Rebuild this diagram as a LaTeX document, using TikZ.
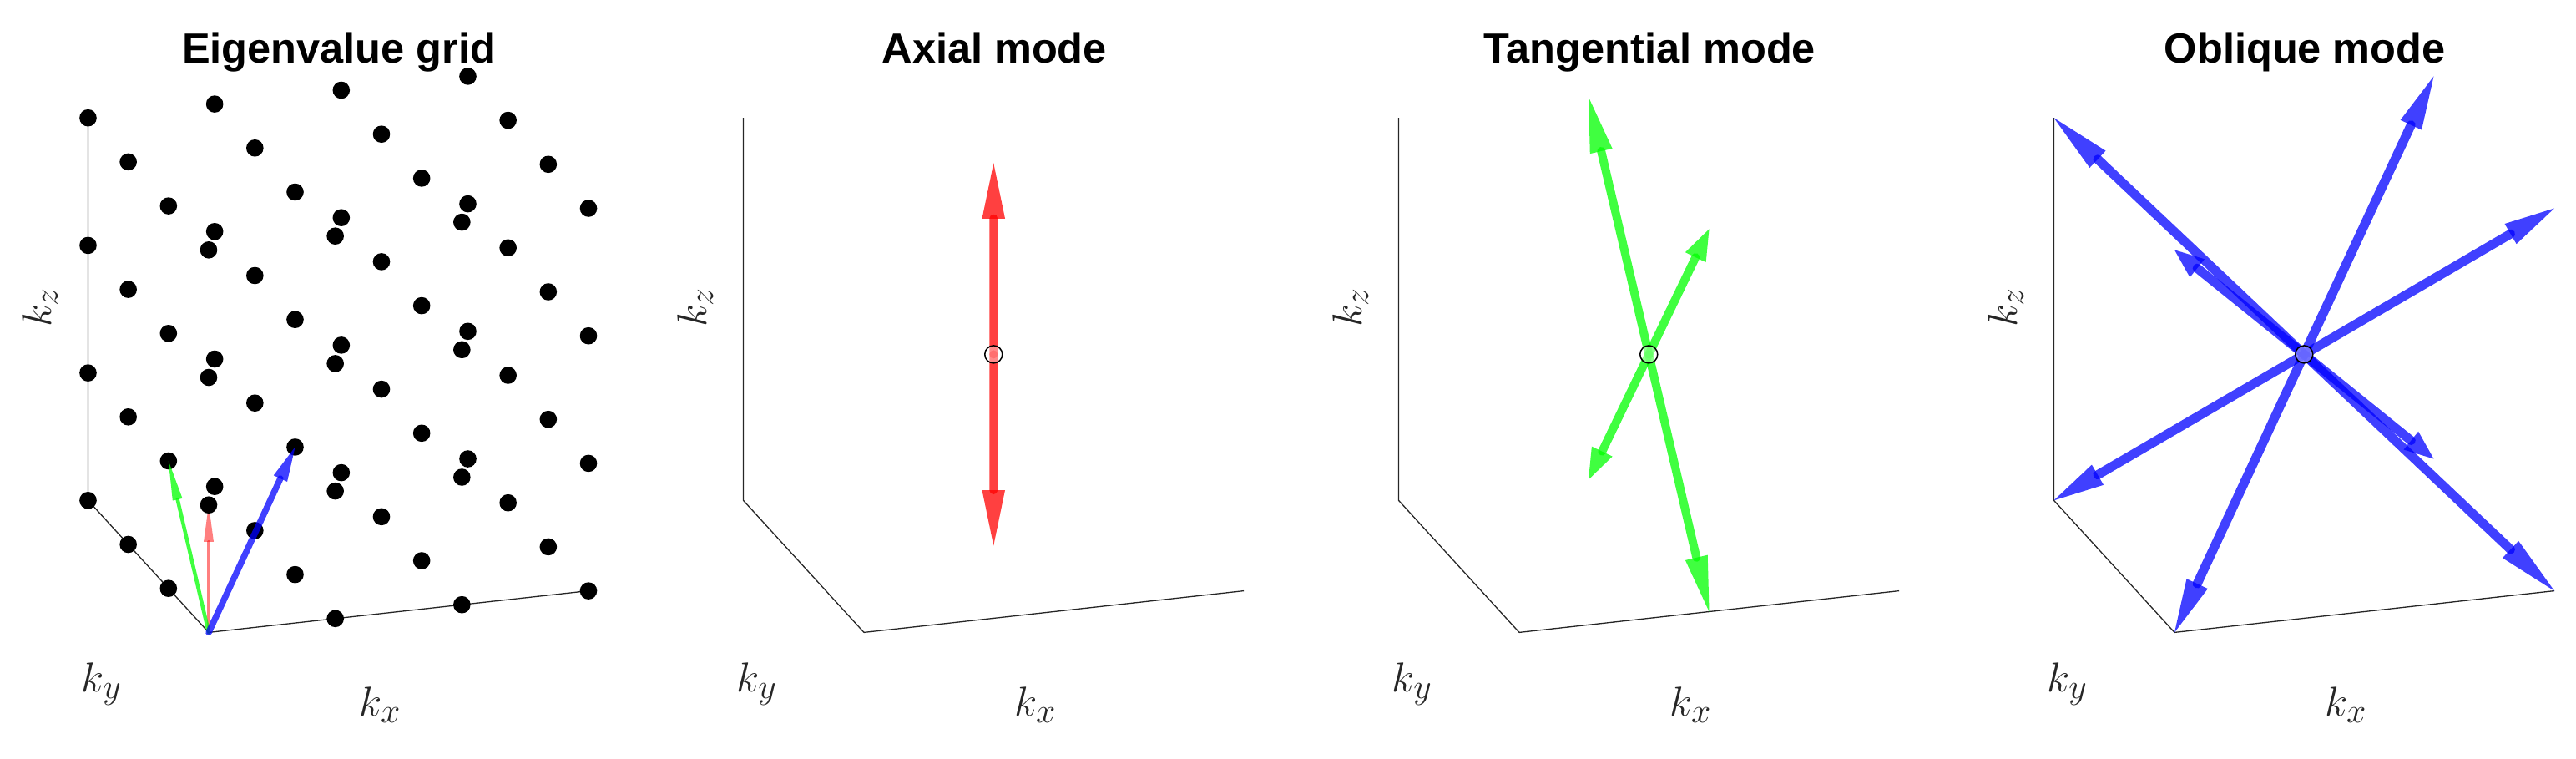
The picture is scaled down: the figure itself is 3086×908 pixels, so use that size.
\documentclass[tikz,border=0pt]{standalone}
\usepackage{graphicx}
\usepackage{fontspec}
\newfontfamily\tfont{Liberation Sans}
\usetikzlibrary{calc}
\definecolor{axgray}{gray}{0.15}
\tikzset{
  panel/.style={x={(151.67pt,16.6pt)},y={(-48.17pt,52.7pt)},z={(0pt,152.7pt)}},
  axline/.style={draw=axgray,line width=1.3pt},
  ttl/.style={font=\tfont\bfseries\fontsize{50.5}{60}\selectfont, anchor=base, inner sep=0pt},
  lbl/.style={font=\fontsize{24.88}{30}\selectfont, text=axgray, inner sep=0pt},
  ctrmark/.style={draw=black, line width=1.5pt, fill=white, fill opacity=0.4},
}
\newcommand\bigmath[1]{\scalebox{2.01}{$#1$}}
% #1 start, #2 tip, #3 colour, #4 opacity, #5 shaft width, #6 head fraction, #7 half head width
\newcommand\vecarrow[7]{%
  \coordinate (hb) at ($(#2)!#6!(#1)$);
  \draw[draw=#3, opacity=#4, line width=#5, line cap=round] (#1) -- (hb);
  \fill[#3, opacity=#4] (#2) -- ($(hb)!#7!90:(#2)$) -- ($(hb)!#7!-90:(#2)$) -- cycle;
}
\begin{document}
\begin{tikzpicture}[x=1pt,y=-1pt]
\useasboundingbox (0,0) rectangle (3086,908);

% titles and axis labels
\foreach \n/\t in {0/Eigenvalue grid,1/Axial mode,2/Tangential mode,3/Oblique mode}{
  \node[ttl] (title\n) at ({406.25+785*\n},75.3) {\t};
  \node[lbl,rotate=90] (kz\n) at ({48+785*\n},368) {\bigmath{k_z}};
  \node[lbl] (ky\n) at ({121.75+785*\n},819) {\bigmath{k_y}};
  \node[lbl] (kx\n) at ({455.5+785*\n},844) {\bigmath{k_x}};
}

% ---------- panel 1: eigenvalue grid
\begin{scope}[shift={(250pt,-757.4pt)},panel]
  \draw[axline] (0,0,0) -- (3,0,0);
  \draw[axline] (0,0,0) -- (0,3,0) -- (0,3,3);
  \coordinate (o1) at (0,0,0);
  \coordinate (r1) at (0,0,1);
  \coordinate (g1) at (0,1,1);
  \coordinate (b1) at (1,1,1);
  \vecarrow{o1}{r1}{red}{0.5}{4pt}{0.29}{6pt}
  \foreach \i in {0,...,3}{
    \foreach \j in {0,...,3}{
      \foreach \k in {0,...,3}{
        \pgfmathtruncatemacro\s{\i+\j+\k}
        \ifnum\s>0 \fill[black] (\i,\j,\k) circle[radius=10.3pt]; \fi
      }
    }
  }
  \vecarrow{o1}{g1}{green}{0.75}{4.5pt}{0.225}{6pt}
  \vecarrow{o1}{b1}{blue}{0.75}{7.5pt}{0.17}{9pt}
\end{scope}

% ---------- panel 2: axial mode
\begin{scope}[shift={(1035pt,-757.4pt)},panel]
  \draw[axline] (0,0,0) -- (3,0,0);
  \draw[axline] (0,0,0) -- (0,3,0) -- (0,3,3);
  \coordinate (c2) at (1.5,1.5,1.5);
  \coordinate (t2a) at (1.5,1.5,3);
  \coordinate (t2b) at (1.5,1.5,0);
  \vecarrow{c2}{t2a}{red}{0.75}{10pt}{0.29}{13.75pt}
  \vecarrow{c2}{t2b}{red}{0.75}{10pt}{0.29}{13.75pt}
  \draw[ctrmark] (c2) circle[radius=10.5pt];
\end{scope}

% ---------- panel 3: tangential mode
\begin{scope}[shift={(1820pt,-757.4pt)},panel]
  \draw[axline] (0,0,0) -- (3,0,0);
  \draw[axline] (0,0,0) -- (0,3,0) -- (0,3,3);
  \coordinate (c3) at (1.5,1.5,1.5);
  \coordinate (t3a) at (1.5,3,3);
  \coordinate (t3b) at (1.5,0,0);
  \coordinate (t3c) at (1.5,0,3);
  \coordinate (t3d) at (1.5,3,0);
  \vecarrow{c3}{t3a}{green}{0.75}{10pt}{0.21}{13.75pt}
  \vecarrow{c3}{t3b}{green}{0.75}{10pt}{0.21}{13.75pt}
  \vecarrow{c3}{t3c}{green}{0.75}{10pt}{0.225}{13.75pt}
  \vecarrow{c3}{t3d}{green}{0.75}{10pt}{0.225}{13.75pt}
  \draw[ctrmark] (c3) circle[radius=10.5pt];
\end{scope}

% ---------- panel 4: oblique mode
\begin{scope}[shift={(2605pt,-757.4pt)},panel]
  \draw[axline] (0,0,0) -- (3,0,0);
  \draw[axline] (0,0,0) -- (0,3,0) -- (0,3,3);
  \coordinate (c4) at (1.5,1.5,1.5);
  \foreach \a/\b/\c [count=\m] in {0/0/0,3/0/0,0/3/0,0/0/3,3/3/0,3/0/3,0/3/3,3/3/3}{
    \coordinate (t4\m) at (\a,\b,\c);
    \vecarrow{c4}{t4\m}{blue}{0.75}{11pt}{0.175}{14pt}
  }
  \draw[ctrmark] (c4) circle[radius=10.5pt];
\end{scope}
\end{tikzpicture}
\end{document}
